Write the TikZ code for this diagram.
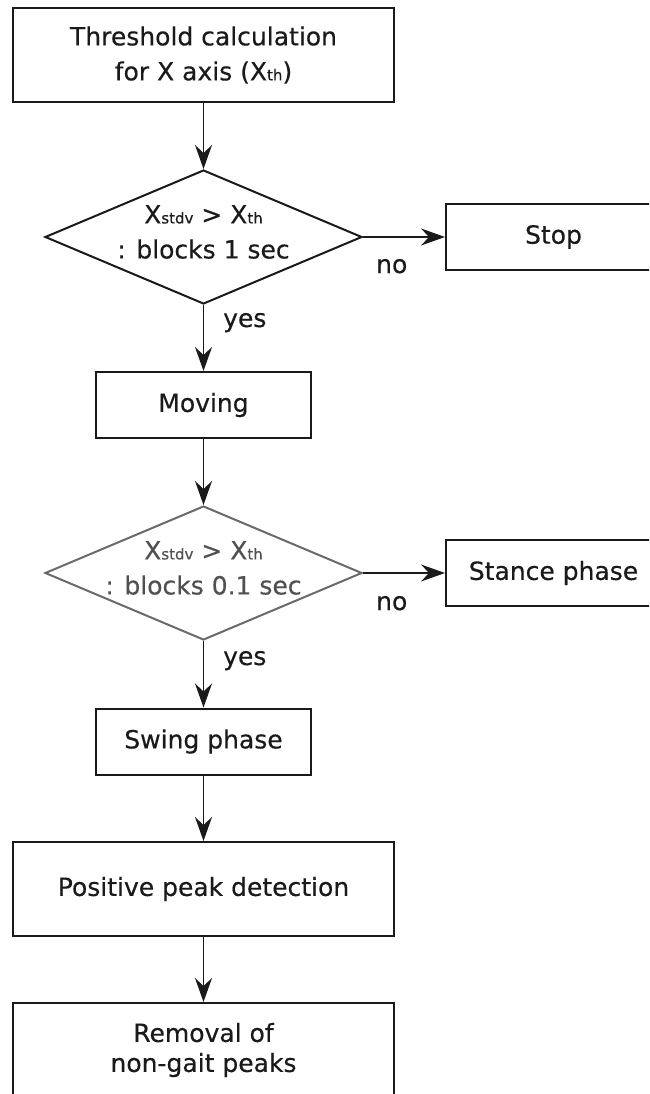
\documentclass[tikz,border=0pt]{standalone}
\usepackage{fontspec}
\setmainfont{DejaVu Sans}[FakeBold=0.4]
\usetikzlibrary{shapes.geometric,arrows.meta}
\definecolor{linecol}{HTML}{1A1A1A}
\definecolor{graycol}{HTML}{6A6A6A}
\definecolor{graytxt}{HTML}{505050}
% small index text, e.g. X_th
\newcommand{\idx}[1]{{\fontsize{15}{15}\selectfont #1}}

\begin{document}
\begin{tikzpicture}[x=1pt,y=-1pt,
  txt/.style={font=\fontsize{25}{35}\selectfont, text=linecol},
  box/.style={txt, draw=linecol, line width=2pt, minimum width=215pt,
    minimum height=66pt, inner sep=0pt, align=center},
  widebox/.style={box, minimum width=381pt, minimum height=94pt},
  decision/.style={diamond, draw=linecol, line width=2pt, inner sep=0pt,
    minimum width=317pt, minimum height=134pt},
  dtext/.style={txt, align=center, inner sep=0pt},
  lbl/.style={txt, inner sep=0pt},
  flow/.style={draw=linecol, line width=1.5pt,
    -{Stealth[length=24pt,width=17pt,inset=8pt]}}
]
\useasboundingbox (0,0) rectangle (649,1094);
\clip (0,0) rectangle (649,1094);

% main column
\node[widebox] (thr) at (203.5,55) {Threshold calculation\\for X axis (X\idx{th})};

\node[decision] (d1) at (203.5,237) {};
\node[dtext] (d1t) at (203.5,232) {X\idx{stdv} > X\idx{th}\\: blocks 1 sec};
\node[box] (stop) at (553.5,237) {Stop};

\node[box] (mov) at (203.5,405) {Moving};

\node[decision, draw=graycol] (d2) at (203.5,573) {};
\node[dtext, text=graytxt] (d2t) at (203.5,568) {X\idx{stdv} > X\idx{th}\\: blocks 0.1 sec};
\node[box] (stance) at (553.5,573) {Stance phase};

\node[box] (swing) at (203.5,741.5) {Swing phase};
\node[widebox] (peak) at (203.5,889) {Positive peak detection};
\node[widebox, font=\fontsize{25}{30}\selectfont] (rem) at (203.5,1050) {Removal of\\non-gait peaks};

% connectors
\draw[flow] (thr) -- (d1);
\draw[flow] (d1.east) -- (stop.west);
\draw[flow] (d1) -- (mov);
\draw[flow] (mov) -- (d2);
\draw[flow] (d2.east) -- (stance.west);
\draw[flow] (d2) -- (swing);
\draw[flow] (swing) -- (peak);
\draw[flow] (peak) -- (rem);

% branch labels
\node[lbl, anchor=base west] (no1) at (376,273) {no};
\node[lbl, anchor=base west] (yes1) at (223,327) {yes};
\node[lbl, anchor=base west] (no2) at (376,610) {no};
\node[lbl, anchor=base west] (yes2) at (223,665) {yes};
\end{tikzpicture}
\end{document}
